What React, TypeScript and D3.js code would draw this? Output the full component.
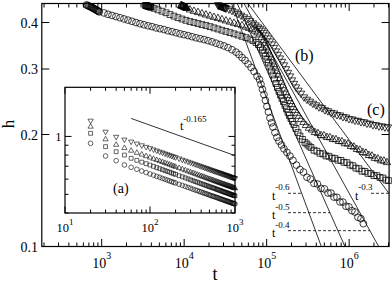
import React, { useEffect, useRef } from 'react';
import * as d3 from 'd3';

// main panel: time t vs height h, four runs (log-log)
const xTicks = [1e3, 1e4, 1e5, 1e6];
const yTicks = [0.1, 0.2, 0.3, 0.4];

const circleRun: [number, number][] = [
  [655, 0.446], [675, 0.4447], [695, 0.4432], [715, 0.442], [735, 0.4405], [755, 0.4393], [775, 0.4378],
  [795, 0.4366], [815, 0.4351], [835, 0.434], [855, 0.4325], [875, 0.4313], [895, 0.4299], [915, 0.4287],
  [935, 0.4273], [1066, 0.4245], [1192, 0.421], [1333, 0.418], [1490, 0.415], [1667, 0.412], [1863, 0.409],
  [2083, 0.406], [2330, 0.403], [2605, 0.4], [2914, 0.397], [3258, 0.3945], [3643, 0.392], [4073, 0.39],
  [4554, 0.387], [5093, 0.385], [5694, 0.383], [6367, 0.38], [7119, 0.378], [7960, 0.3755], [8903, 0.373],
  [9955, 0.371], [11130, 0.369], [12450, 0.3665], [13910, 0.364], [15560, 0.362], [17400, 0.36],
  [19450, 0.3575], [21750, 0.355], [24320, 0.352], [27190, 0.349], [30410, 0.346], [34000, 0.3425],
  [38020, 0.338], [42510, 0.333], [46240, 0.328], [50280, 0.322], [54700, 0.3165], [59480, 0.3095],
  [64680, 0.303], [70330, 0.2955], [76470, 0.287], [81900, 0.281], [85300, 0.273], [88900, 0.2645],
  [92740, 0.256], [96700, 0.247], [100800, 0.238], [105100, 0.23], [109650, 0.2215], [114300, 0.215],
  [119200, 0.2095], [126000, 0.2025], [133200, 0.1965], [140900, 0.192], [151100, 0.1875], [162100, 0.183],
  [176200, 0.179], [191650, 0.175], [208400, 0.1705], [229800, 0.1655], [253300, 0.161], [279300, 0.1585],
  [307900, 0.1535], [339700, 0.1518], [374500, 0.1478], [412900, 0.1472], [455200, 0.1433], [501900, 0.1428],
  [553400, 0.1393], [601900, 0.1392], [654400, 0.1358], [711500, 0.1356], [773700, 0.1318], [841200, 0.1316],
  [914700, 0.1283], [994600, 0.1278], [1081000, 0.1248], [1176000, 0.1238], [1278000, 0.1198],
  [1390000, 0.1188], [1487000, 0.1152],
];

const squareRun: [number, number][] = [
  [3395, 0.4447], [3443, 0.4443], [3491, 0.4439], [3540, 0.4435], [3590, 0.4431], [3640, 0.4427],
  [3692, 0.4422], [3744, 0.4418], [3796, 0.4413], [3850, 0.4409], [3904, 0.4404], [3959, 0.44],
  [4310, 0.4368], [4820, 0.4327], [5390, 0.429], [6020, 0.425], [6728, 0.4203], [7520, 0.4162],
  [8410, 0.4123], [9400, 0.4088], [10510, 0.4055], [11760, 0.4025], [13140, 0.4], [14690, 0.3975],
  [16430, 0.395], [18370, 0.3927], [20540, 0.39], [22960, 0.387], [25680, 0.3843], [28710, 0.3814],
  [32100, 0.3786], [35920, 0.3758], [40160, 0.373], [44900, 0.3702], [50200, 0.3673], [56120, 0.3643],
  [62760, 0.3611], [68240, 0.3578], [74200, 0.3534], [79510, 0.3489], [84100, 0.3436], [88930, 0.3373],
  [92740, 0.331], [96700, 0.325], [100800, 0.3181], [105100, 0.3114], [109650, 0.3038], [114300, 0.2964],
  [119200, 0.2891], [124300, 0.282], [129600, 0.2743], [135100, 0.2676], [140900, 0.2611], [147000, 0.2555],
  [153300, 0.25], [159800, 0.2453], [166600, 0.2395], [173800, 0.2344], [181200, 0.2293], [188900, 0.2251],
  [197100, 0.2208], [205500, 0.2169], [214300, 0.2128], [226600, 0.2076], [239600, 0.2025], [253300, 0.1982],
  [271600, 0.194], [291200, 0.1904], [308000, 0.1885], [325600, 0.1862], [344400, 0.1846], [374500, 0.1815],
  [407100, 0.1803], [442700, 0.178], [481300, 0.1774], [523300, 0.1752], [569000, 0.1748], [618900, 0.1728],
  [672900, 0.1726], [731700, 0.1706], [795600, 0.1704], [865100, 0.1684], [940600, 0.168], [1022600, 0.1656],
  [1112000, 0.1648], [1209000, 0.1624], [1314600, 0.1618], [1429600, 0.1594], [1554000, 0.1592],
  [1690000, 0.1573], [1837700, 0.157], [1998000, 0.1551], [2172600, 0.155], [2362400, 0.1533],
  [2568700, 0.1528], [2793000, 0.1509], [2995000, 0.1504],
];

const triUpRun: [number, number][] = [
  [9146, 0.4444], [9275, 0.4438], [9405, 0.4432], [9537, 0.4426], [9671, 0.4419], [9807, 0.4413],
  [9945, 0.4407], [10085, 0.4401], [10227, 0.4395], [10371, 0.4389], [10517, 0.4383], [10664, 0.4376],
  [10814, 0.437], [11760, 0.4327], [13140, 0.429], [14690, 0.4258], [16430, 0.4226], [18370, 0.4195],
  [20540, 0.4164], [22960, 0.4133], [25680, 0.4103], [28710, 0.4073], [32100, 0.4043], [35920, 0.4013],
  [40160, 0.3983], [44900, 0.3954], [50200, 0.3924], [56120, 0.389], [61020, 0.3862], [66360, 0.3831],
  [72160, 0.3795], [77370, 0.3753], [81800, 0.3707], [86480, 0.3645], [91450, 0.3578], [95360, 0.3511],
  [99430, 0.3436], [103700, 0.336], [108100, 0.329], [112800, 0.3221], [117600, 0.3153], [122600, 0.3085],
  [127800, 0.3019], [133300, 0.2955], [139000, 0.2891], [144950, 0.2829], [151100, 0.2768], [157600, 0.2708],
  [164300, 0.2651], [171400, 0.2594], [178700, 0.2547], [186300, 0.25], [194400, 0.2455], [202700, 0.241],
  [211300, 0.2367], [220300, 0.2324], [233000, 0.2283], [246400, 0.2241], [260500, 0.2195], [279300, 0.2155],
  [299500, 0.2116], [325600, 0.2081], [354100, 0.2058], [385000, 0.2026], [418700, 0.2013], [455200, 0.1988],
  [495000, 0.1986], [538200, 0.1965], [585300, 0.1962], [636400, 0.1941], [691900, 0.1938], [752400, 0.1917],
  [818100, 0.1914], [889500, 0.1891], [967200, 0.1886], [1051500, 0.1859], [1143400, 0.1851],
  [1243200, 0.1824], [1352000, 0.1816], [1470000, 0.179], [1598000, 0.1783], [1738000, 0.1758],
  [1890000, 0.1751], [2054600, 0.1727], [2234000, 0.172], [2429000, 0.1701], [2641000, 0.1698],
  [2872000, 0.1682],
];

const triDownRun: [number, number][] = [
  [25700, 0.4458], [26170, 0.4452], [26660, 0.4446], [27160, 0.444], [27700, 0.4433], [28250, 0.4426],
  [28720, 0.442], [29300, 0.4412], [29880, 0.4404], [30370, 0.4397], [30980, 0.4389], [31600, 0.438],
  [32110, 0.4373], [34930, 0.4348], [37980, 0.4308], [41300, 0.4268], [44900, 0.4229], [48810, 0.4185],
  [53080, 0.414], [57710, 0.4093], [62760, 0.4045], [68240, 0.3988], [73170, 0.3939], [78460, 0.389],
  [82940, 0.3855], [87700, 0.3812], [92740, 0.3761], [98050, 0.3702], [103700, 0.3634], [109650, 0.3567],
  [115900, 0.35], [122600, 0.3426], [129600, 0.3353], [137100, 0.3283], [144950, 0.321], [153300, 0.3144],
  [162100, 0.3076], [171400, 0.3004], [181200, 0.2936], [191650, 0.2873], [202700, 0.2802], [214300, 0.2743],
  [226600, 0.2683], [243000, 0.2629], [260500, 0.2581], [283200, 0.2523], [307900, 0.2486], [334900, 0.2456],
  [364100, 0.2425], [395900, 0.2401], [430500, 0.2372], [468100, 0.2359], [509000, 0.2329], [553400, 0.2315],
  [601900, 0.2292], [654400, 0.2284], [711500, 0.226], [773700, 0.2255], [841200, 0.2233], [914700, 0.2227],
  [994600, 0.2205], [1081000, 0.2201], [1175700, 0.2184], [1278400, 0.2181], [1390300, 0.2164],
  [1511700, 0.2162], [1643600, 0.2144], [1787100, 0.2143], [1943000, 0.2124], [2112700, 0.2123],
  [2297300, 0.2107], [2498000, 0.2108], [2716000, 0.2094], [2953000, 0.2095],
];

// power laws drawn as guides
const lawExponents = ['-0.6', '-0.5', '-0.4', '-0.3'];
const lawStart: [number, number][] = [[37600, 0.45], [44000, 0.45], [53200, 0.45], [59300, 0.45]];
const lawEnd: [number, number][] = [[460000, 0.1], [889000, 0.1], [2280000, 0.1], [3050000, 0.1387]];

// inset (a): early times
const insetXTicks = [10, 100, 1000];
const insetYTicks = [1];
const insetT = [
  20, 30, 40, 50, 60, 70, 80, 90, 100, 110, 120, 130, 140, 150, 160, 170, 180, 190, 200,
  220, 240, 260, 280, 300, 320, 340, 360, 380, 400, 420, 440, 460, 480, 500, 520, 540, 560, 580, 600,
  620, 640, 660, 680, 700, 720, 740, 760, 780, 800, 820, 840, 860, 880, 900, 920, 940, 960, 980, 1000,
];
const insetTriDown = [
  1.207, 1.058, 0.995, 0.963, 0.94, 0.918, 0.899, 0.882, 0.868, 0.855, 0.844, 0.833, 0.824, 0.815, 0.807,
  0.799, 0.792, 0.785, 0.779, 0.768, 0.757, 0.748, 0.739, 0.731, 0.724, 0.717, 0.711, 0.705, 0.699, 0.694,
  0.689, 0.684, 0.68, 0.675, 0.671, 0.667, 0.663, 0.66, 0.656, 0.653, 0.65, 0.647, 0.644, 0.641, 0.638,
  0.635, 0.633, 0.63, 0.628, 0.625, 0.623, 0.62, 0.618, 0.616, 0.614, 0.612, 0.61, 0.608, 0.606,
];
const insetTriUp = [
  1.124, 0.966, 0.905, 0.87, 0.843, 0.822, 0.805, 0.79, 0.777, 0.765, 0.754, 0.745, 0.736, 0.728, 0.721,
  0.714, 0.707, 0.701, 0.695, 0.685, 0.675, 0.667, 0.659, 0.652, 0.645, 0.639, 0.633, 0.627, 0.622, 0.618,
  0.613, 0.609, 0.604, 0.6, 0.597, 0.593, 0.59, 0.586, 0.583, 0.58, 0.577, 0.574, 0.572, 0.569, 0.566,
  0.564, 0.562, 0.559, 0.557, 0.555, 0.553, 0.551, 0.549, 0.547, 0.545, 0.543, 0.541, 0.539, 0.538,
];
const insetSquare = [
  1.038, 0.885, 0.833, 0.8, 0.77, 0.751, 0.735, 0.722, 0.71, 0.699, 0.689, 0.68, 0.672, 0.665, 0.658,
  0.652, 0.646, 0.64, 0.635, 0.625, 0.617, 0.609, 0.602, 0.595, 0.589, 0.583, 0.578, 0.573, 0.568, 0.564,
  0.56, 0.556, 0.552, 0.548, 0.545, 0.542, 0.539, 0.536, 0.533, 0.53, 0.527, 0.525, 0.522, 0.52, 0.517,
  0.515, 0.513, 0.511, 0.509, 0.507, 0.505, 0.503, 0.501, 0.499, 0.498, 0.496, 0.494, 0.493, 0.491,
];
const insetCircle = [
  0.921, 0.791, 0.748, 0.711, 0.691, 0.675, 0.661, 0.649, 0.638, 0.629, 0.62, 0.613, 0.605, 0.599, 0.593,
  0.587, 0.582, 0.577, 0.573, 0.564, 0.557, 0.55, 0.543, 0.538, 0.532, 0.527, 0.523, 0.518, 0.514, 0.51,
  0.506, 0.503, 0.5, 0.496, 0.493, 0.49, 0.488, 0.485, 0.483, 0.48, 0.478, 0.475, 0.473, 0.471, 0.469,
  0.467, 0.465, 0.463, 0.461, 0.46, 0.458, 0.456, 0.454, 0.453, 0.451, 0.45, 0.448, 0.447, 0.446,
];
const insetLaw: [number, number][] = [[60, 1.24], [1000, 0.795]];

const FONT = 'Liberation Serif, Times New Roman, serif';

function App() {
  const svgRef = useRef<SVGSVGElement>(null);

  useEffect(() => {
    document.body.style.margin = '0';
    const svg = d3.select(svgRef.current);
    svg.selectAll('*').remove();

    const x = d3.scaleLog().domain([188, 3.05e6]).range([41.8, 389.1]);
    const y = d3.scaleLog().domain([0.1, 0.45]).range([246.5, 3.5]);
    const [x0, x1] = x.range();
    const [y0, y1] = y.range();

    const txt = (g, px, py, size, anchor, s) =>
      g.append('text').attr('x', px).attr('y', py).attr('font-size', size).attr('text-anchor', anchor)
        .style('font-family', FONT).text(s);

    const supLabel = (g, px, py, base, exp, size, supSize, dy, anchor) => {
      const t = txt(g, px, py, size, anchor, null);
      t.append('tspan').text(base);
      t.append('tspan').attr('dy', dy).attr('font-size', supSize).text(exp);
    };

    // ---- main frame + ticks
    const main = svg.append('g');
    const minorX = x.ticks().filter((v) => !xTicks.includes(v) && v > 190);
    minorX.forEach((v) => {
      main.append('line').attr('x1', x(v)).attr('x2', x(v)).attr('y1', y0).attr('y2', y0 - 4).attr('stroke', '#000');
      main.append('line').attr('x1', x(v)).attr('x2', x(v)).attr('y1', y1).attr('y2', y1 + 4).attr('stroke', '#000');
    });
    xTicks.forEach((v) => {
      main.append('line').attr('x1', x(v)).attr('x2', x(v)).attr('y1', y0).attr('y2', y0 - 7.5).attr('stroke', '#000');
      main.append('line').attr('x1', x(v)).attr('x2', x(v)).attr('y1', y1).attr('y2', y1 + 7.5).attr('stroke', '#000');
      supLabel(main, x(v), 268, '10', String(Math.round(Math.log10(v))), 14, 10, -9.5, 'middle');
    });
    yTicks.forEach((v) => {
      main.append('line').attr('x1', x0).attr('x2', x0 + 7.5).attr('y1', y(v)).attr('y2', y(v)).attr('stroke', '#000');
      main.append('line').attr('x1', x1).attr('x2', x1 - 7.5).attr('y1', y(v)).attr('y2', y(v)).attr('stroke', '#000');
      txt(main, 38, y(v) + 5, 14, 'end', String(v));
    });
    main.append('rect').attr('x', x0).attr('y', y1).attr('width', x1 - x0).attr('height', y0 - y1)
      .attr('fill', 'none').attr('stroke', '#000').attr('stroke-width', 1.2);

    txt(main, 215, 280, 18, 'middle', 't');
    txt(main, 0, 0, 17, 'middle', 'h').attr('transform', 'translate(14,124) rotate(-90)');

    // ---- power-law guides
    const labelPlace = [
      { lx: 272, h: 0.139 },
      { lx: 272, h: 0.1233 },
      { lx: 272, h: 0.1103 },
      { lx: 355, h: 0.139 },
    ];
    lawExponents.forEach((e, i) => {
      const [ta, ha] = lawStart[i];
      const [tb, hb] = lawEnd[i];
      main.append('line').attr('x1', x(ta)).attr('y1', y(ha)).attr('x2', x(tb)).attr('y2', y(hb))
        .attr('stroke', '#000').attr('stroke-width', 0.8);
      const p = Math.log(hb / ha) / Math.log(tb / ta);
      const lp = labelPlace[i];
      const tAt = ta * Math.pow(lp.h / ha, 1 / p);
      const ly = y(lp.h);
      main.append('line').attr('x1', lp.lx + 16).attr('x2', Math.min(x(tAt), x1)).attr('y1', ly).attr('y2', ly)
        .attr('stroke', '#000').attr('stroke-width', 0.8).attr('stroke-dasharray', '3,2');
      supLabel(main, lp.lx, ly + 6.5, 't', e, 12, 9, -9.5, 'start');
    });

    // ---- markers
    const circ = d3.symbol().type(d3.symbolCircle).size(36)();
    const sq = d3.symbol().type(d3.symbolSquare).size(34)();
    const tri = d3.symbol().type(d3.symbolTriangle).size(24)();
    const runs = [
      { data: circleRun, path: circ, rot: 0 },
      { data: squareRun, path: sq, rot: 0 },
      { data: triUpRun, path: tri, rot: 0 },
      { data: triDownRun, path: tri, rot: 180 },
    ];
    runs.forEach((r) => {
      main.append('g').selectAll('path').data(r.data).enter().append('path')
        .attr('d', r.path)
        .attr('transform', (d) => `translate(${x(d[0])},${y(d[1])}) rotate(${r.rot})`)
        .attr('fill', 'none').attr('stroke', '#000').attr('stroke-width', 0.75);
    });

    txt(main, 295, 61, 16, 'start', '(b)');
    txt(main, 367, 115, 16, 'start', '(c)');

    // ---- inset
    const xi = d3.scaleLog().domain([10, 1000]).range([65, 235]);
    const yi = d3.scaleLog().domain([0.4, 1.8]).range([213, 87.3]);
    const [ix0, ix1] = xi.range();
    const [iy0, iy1] = yi.range();
    const inset = svg.append('g');
    inset.append('rect').attr('x', ix0).attr('y', iy1).attr('width', ix1 - ix0).attr('height', iy0 - iy1)
      .attr('fill', '#fff');
    xi.ticks().filter((v) => !insetXTicks.includes(v)).forEach((v) => {
      inset.append('line').attr('x1', xi(v)).attr('x2', xi(v)).attr('y1', iy0).attr('y2', iy0 - 3.5).attr('stroke', '#000');
      inset.append('line').attr('x1', xi(v)).attr('x2', xi(v)).attr('y1', iy1).attr('y2', iy1 + 3.5).attr('stroke', '#000');
    });
    insetXTicks.forEach((v) => {
      inset.append('line').attr('x1', xi(v)).attr('x2', xi(v)).attr('y1', iy0).attr('y2', iy0 - 6.5).attr('stroke', '#000');
      inset.append('line').attr('x1', xi(v)).attr('x2', xi(v)).attr('y1', iy1).attr('y2', iy1 + 6.5).attr('stroke', '#000');
      supLabel(inset, xi(v), 232, '10', String(Math.round(Math.log10(v))), 12.5, 9, -7.5, 'middle');
    });
    yi.ticks().filter((v) => !insetYTicks.includes(v)).forEach((v) => {
      inset.append('line').attr('x1', ix0).attr('x2', ix0 + 3.5).attr('y1', yi(v)).attr('y2', yi(v)).attr('stroke', '#000');
      inset.append('line').attr('x1', ix1).attr('x2', ix1 - 3.5).attr('y1', yi(v)).attr('y2', yi(v)).attr('stroke', '#000');
    });
    insetYTicks.forEach((v) => {
      inset.append('line').attr('x1', ix0).attr('x2', ix0 + 6.5).attr('y1', yi(v)).attr('y2', yi(v)).attr('stroke', '#000');
      inset.append('line').attr('x1', ix1).attr('x2', ix1 - 6.5).attr('y1', yi(v)).attr('y2', yi(v)).attr('stroke', '#000');
      txt(inset, 61.5, yi(v) + 4.5, 12.5, 'end', String(v));
    });
    inset.append('rect').attr('x', ix0).attr('y', iy1).attr('width', ix1 - ix0).attr('height', iy0 - iy1)
      .attr('fill', 'none').attr('stroke', '#000').attr('stroke-width', 1.2);

    inset.append('line').attr('x1', xi(insetLaw[0][0])).attr('y1', yi(insetLaw[0][1]))
      .attr('x2', xi(insetLaw[1][0])).attr('y2', yi(insetLaw[1][1])).attr('stroke', '#000').attr('stroke-width', 0.8);
    supLabel(inset, 180, 130, 't', '-0.165', 12, 9, -8.5, 'start');
    txt(inset, 113, 193, 14, 'start', '(a)');

    const icirc = d3.symbol().type(d3.symbolCircle).size(17)();
    const isq = d3.symbol().type(d3.symbolSquare).size(15)();
    const itri = d3.symbol().type(d3.symbolTriangle).size(12)();
    const iruns = [
      { vals: insetCircle, path: icirc, rot: 0 },
      { vals: insetSquare, path: isq, rot: 0 },
      { vals: insetTriUp, path: itri, rot: 0 },
      { vals: insetTriDown, path: itri, rot: 180 },
    ];
    iruns.forEach((r) => {
      inset.append('g').selectAll('path').data(r.vals).enter().append('path')
        .attr('d', r.path)
        .attr('transform', (d, i) => `translate(${xi(insetT[i])},${yi(d)}) rotate(${r.rot})`)
        .attr('fill', 'none').attr('stroke', '#000').attr('stroke-width', 0.6);
    });
  }, []);

  return (
    <svg ref={svgRef} width={392} height={285} style={{ display: 'block', background: '#fff' }}></svg>
  );
}

export default App;
